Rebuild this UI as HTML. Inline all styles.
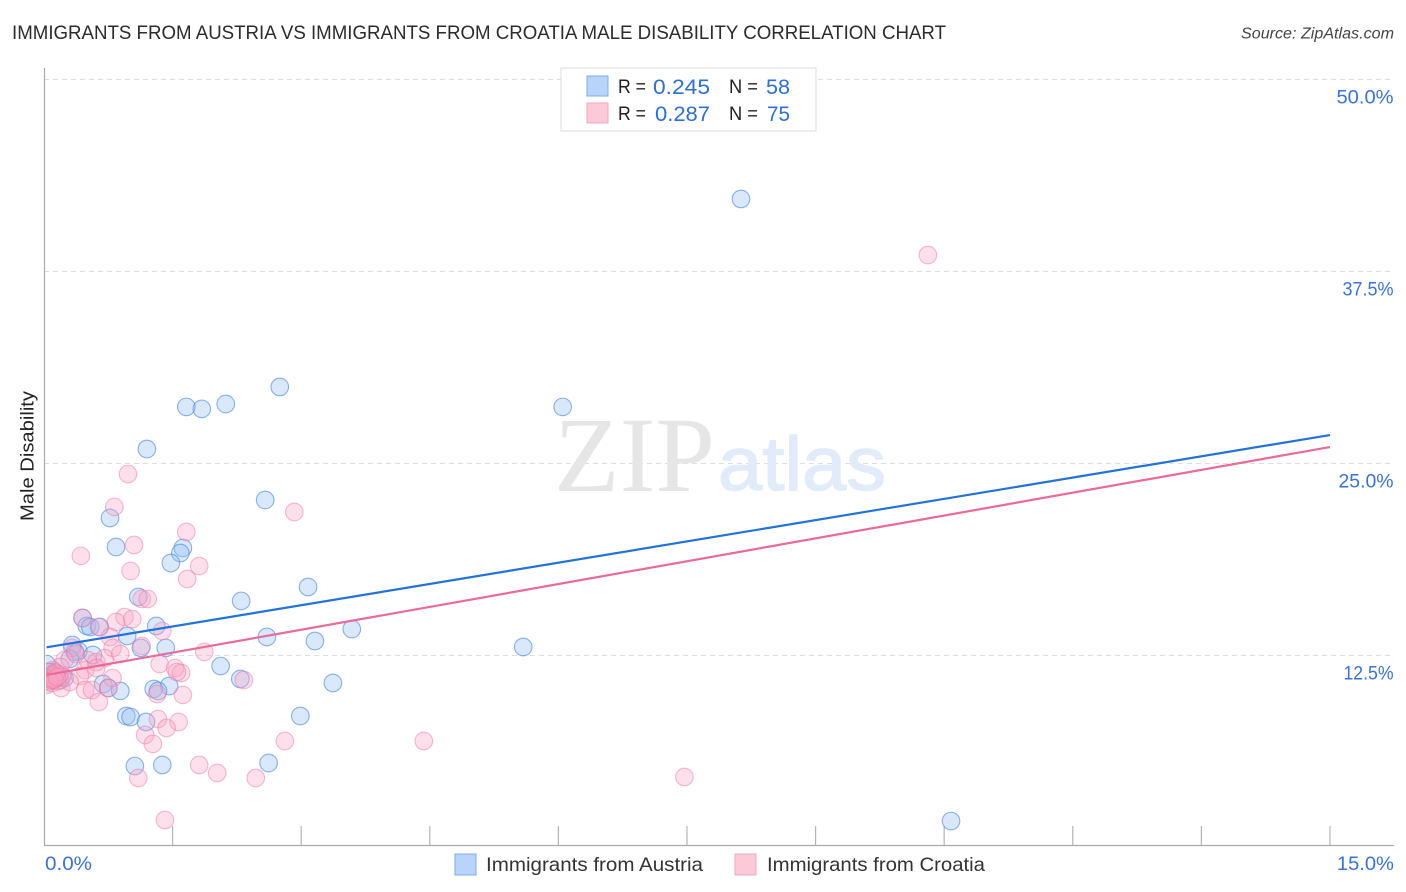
<!DOCTYPE html>
<html>
<head>
<meta charset="utf-8">
<title>Immigrants from Austria vs Immigrants from Croatia Male Disability Correlation Chart</title>
<style>
html,body{margin:0;padding:0;background:#fff;width:1406px;height:892px;overflow:hidden}
svg{display:block}
text{font-family:"Liberation Sans",sans-serif}
</style>
</head>
<body>
<svg id="chart" width="1406" height="892" viewBox="0 0 1406 892" xmlns="http://www.w3.org/2000/svg">
  <defs>
    <clipPath id="plot-clip"><rect x="46" y="60" width="1350" height="786"/></clipPath>
  </defs>
  <text x="12" y="39" font-size="19" fill="#2b2b2b" textLength="934" lengthAdjust="spacingAndGlyphs">IMMIGRANTS FROM AUSTRIA VS IMMIGRANTS FROM CROATIA MALE DISABILITY CORRELATION CHART</text>
  <text x="1241" y="38.5" font-size="15.5" font-style="italic" fill="#444" textLength="153" lengthAdjust="spacingAndGlyphs">Source: ZipAtlas.com</text>
  <g id="grid"></g>
  <g>
    <text x="554" y="491" style="font-family:'Liberation Serif',serif" font-size="107" fill="#e6e6e6" textLength="161" lengthAdjust="spacingAndGlyphs">ZIP</text>
    <text x="718" y="490" font-size="76" fill="#e2ebf9" stroke="#e2ebf9" stroke-width="1.4" textLength="168" lengthAdjust="spacingAndGlyphs">atlas</text>
  </g>
  <g id="axes"></g>
  <g id="points" clip-path="url(#plot-clip)"></g>
  <g id="lines"></g>
  <g id="labels"></g>
  <text transform="translate(33.5,456) rotate(-90)" text-anchor="middle" font-size="18.5" fill="#222" textLength="130" lengthAdjust="spacingAndGlyphs">Male Disability</text>

  <g>
    <rect x="561" y="68" width="255" height="63" fill="#fff" stroke="#dcdcdc" stroke-width="1"/>
    <rect x="587" y="76" width="21" height="20" fill="#b9d4fa" stroke="#7fabe6" stroke-width="1"/>
    <rect x="587" y="103" width="21" height="20" fill="#fcc9d9" stroke="#f1a7c0" stroke-width="1"/>
    <text x="618" y="93" font-size="19.5" fill="#222" textLength="28" lengthAdjust="spacingAndGlyphs">R =</text>
    <text x="653" y="94" font-size="21" fill="#2f6fd0" textLength="57" lengthAdjust="spacingAndGlyphs">0.245</text>
    <text x="729" y="93" font-size="19.5" fill="#222" textLength="29" lengthAdjust="spacingAndGlyphs">N =</text>
    <text x="766" y="94" font-size="21" fill="#2f6fd0" textLength="24" lengthAdjust="spacingAndGlyphs">58</text>
    <text x="618" y="120" font-size="19.5" fill="#222" textLength="28" lengthAdjust="spacingAndGlyphs">R =</text>
    <text x="655" y="121" font-size="21" fill="#2f6fd0" textLength="55" lengthAdjust="spacingAndGlyphs">0.287</text>
    <text x="729" y="120" font-size="19.5" fill="#222" textLength="29" lengthAdjust="spacingAndGlyphs">N =</text>
    <text x="767" y="121" font-size="21" fill="#2f6fd0" textLength="23" lengthAdjust="spacingAndGlyphs">75</text>
  </g>

  <g>
    <rect x="455" y="854" width="21" height="21" fill="#b9d4fa" stroke="#7fabe6" stroke-width="1"/>
    <text x="486" y="871" font-size="19.5" fill="#333" textLength="217" lengthAdjust="spacingAndGlyphs">Immigrants from Austria</text>
    <rect x="735" y="854" width="21" height="21" fill="#fcc9d9" stroke="#f1a7c0" stroke-width="1"/>
    <text x="767" y="871" font-size="19.5" fill="#333" textLength="218" lengthAdjust="spacingAndGlyphs">Immigrants from Croatia</text>
  </g>
</svg>
<script>
// Values are percentages.
const austriaX = [8.13,6.05,2.75,2.12,1.84,1.66,1.20,2.58,0.77,0.84,1.62,1.59,1.48,3.08,2.30,1.10,0.45,0.50,0.54,0.65,1.31,3.59,2.60,3.16,0.97,5.59,1.42,1.13,0.33,0.40,0.36,0.57,2.06,2.29,3.37,1.46,0.69,0.75,0.89,1.28,1.33,2.99,0.96,1.01,1.19,1.06,1.38,2.62,10.58,0.03,0.07,0.09,0.14,0.19,0.24,0.30,0.13,0.05];
const austriaY = [42.19,28.65,29.95,28.84,28.52,28.65,25.91,22.59,21.42,19.53,19.47,19.14,18.49,16.93,16.02,16.28,14.91,14.39,14.32,14.32,14.39,14.19,13.67,13.41,13.74,13.02,12.96,12.96,13.15,12.76,12.70,12.50,11.78,10.94,10.68,10.48,10.61,10.35,10.16,10.29,10.16,8.53,8.53,8.46,8.14,5.27,5.34,5.47,1.69,11.91,11.39,10.87,11.13,10.87,11.00,12.24,11.39,11.00];
const croatiaX = [10.31,0.98,0.82,2.92,1.66,1.05,0.43,1.01,1.81,1.67,1.14,1.21,0.45,0.94,1.03,0.84,0.64,1.38,0.77,0.80,1.14,0.33,1.87,1.35,1.53,1.60,1.55,2.33,0.24,0.51,0.61,0.71,0.89,0.37,0.19,0.48,0.61,0.80,0.42,0.10,0.05,0.03,0.09,0.20,0.30,0.48,0.56,0.64,0.75,1.32,1.62,1.33,1.57,1.43,1.18,1.27,2.81,4.43,1.81,2.02,2.47,1.10,7.47,1.41,0.07,0.13,0.16,0.09,0.10,0.21,0.18,0.14,0.06,0.12,0.15];
const croatiaY = [38.54,24.28,22.14,21.81,20.51,19.66,18.95,17.97,18.29,17.45,16.15,16.15,14.91,14.97,14.84,14.65,14.32,14.06,13.67,12.96,13.09,12.96,12.70,11.91,11.65,11.33,11.39,10.87,12.17,12.17,12.04,12.30,12.57,12.57,11.72,11.52,11.65,11.00,11.13,11.52,11.39,10.55,10.68,10.35,10.74,10.22,10.22,9.44,10.35,9.96,9.90,8.33,8.14,7.75,7.29,6.71,6.90,6.90,5.34,4.82,4.49,4.49,4.56,1.76,11.00,11.13,10.80,11.20,10.87,11.10,11.20,11.30,10.80,10.90,11.05];
const austriaTrendX = [0.03,15];
const austriaTrendY = [13.0,26.82];
const croatiaTrendX = [0.03,15];
const croatiaTrendY = [11.2,26.04];
const yTicks = [12.5,25,37.5,50];
const yTickLabels = ["12.5%","25.0%","37.5%","50.0%"];
const xTicks = [1.5,3,4.5,6,7.5,9,10.5,12,13.5,15];
const xEndValues = [0,15];
const xEndLabels = ["0.0%","15.0%"];

const NS = "http://www.w3.org/2000/svg";
const xScale = v => 44 + v * 85.73;
const yScale = v => 847 - v * 15.36;
function make(tag, parent) {
  const el = document.createElementNS(NS, tag);
  parent.appendChild(el);
  return el;
}
const labelWidth = text => text.startsWith("1") ? 50 : text.startsWith("3") ? 51 : text.startsWith("2") ? 55 : 57;
const gridG = document.getElementById("grid");
const axesG = document.getElementById("axes");
const pointsG = document.getElementById("points");
const linesG = document.getElementById("lines");
const labelsG = document.getElementById("labels");

yTicks.forEach((t, i) => {
  const l = make("line", gridG);
  
  
  l.setAttribute("x1", 44); l.setAttribute("x2", 1394);
  l.setAttribute("y1", yScale(t) + 0.5); l.setAttribute("y2", yScale(t) + 0.5);
  l.setAttribute("stroke", "#dedede"); l.setAttribute("stroke-width", 1);
  l.setAttribute("stroke-dasharray", "5 4");
  const s = make("text", labelsG);
  
  
  s.setAttribute("x", 1393.5);
  s.setAttribute("y", yScale(t) + 24.5);
  s.setAttribute("text-anchor", "end");
  s.setAttribute("font-size", "19");
  s.setAttribute("fill", "#3a72d4");
  s.setAttribute("textLength", labelWidth(yTickLabels[i]));
  s.setAttribute("lengthAdjust", "spacingAndGlyphs");
  s.textContent = yTickLabels[i];
});

const yAxis = make("line", axesG);


yAxis.setAttribute("x1", 44.5); yAxis.setAttribute("x2", 44.5);
yAxis.setAttribute("y1", 68); yAxis.setAttribute("y2", 846);
yAxis.setAttribute("stroke", "#aaa"); yAxis.setAttribute("stroke-width", 1.2);

const xAxis = make("line", axesG);


xAxis.setAttribute("x1", 44); xAxis.setAttribute("x2", 1394);
xAxis.setAttribute("y1", 845.5); xAxis.setAttribute("y2", 845.5);
xAxis.setAttribute("stroke", "#aaa"); xAxis.setAttribute("stroke-width", 1.2);

xTicks.forEach(t => {
  const l = make("line", axesG);
  
  
  l.setAttribute("x1", xScale(t)); l.setAttribute("x2", xScale(t));
  l.setAttribute("y1", 826); l.setAttribute("y2", 845);
  l.setAttribute("stroke", "#b5b5b5"); l.setAttribute("stroke-width", 1.2);
});

xEndValues.forEach((v, i) => {
  const s = make("text", labelsG);
  
  
  s.setAttribute("x", i === 0 ? xScale(v) + 1 : xScale(v) + 7);
  s.setAttribute("y", 870);
  s.setAttribute("font-size", "19");
  s.setAttribute("fill", "#3a72d4");
  s.setAttribute("textLength", i === 0 ? "47" : "57");
  s.setAttribute("lengthAdjust", "spacingAndGlyphs");
  s.textContent = xEndLabels[i];
});

austriaX.forEach((v, i) => {
  const c = make("circle", pointsG);
  
  
  c.setAttribute("cx", xScale(v));
  c.setAttribute("cy", yScale(austriaY[i]));
  c.setAttribute("r", 8.8);
  c.setAttribute("fill", "rgba(150,190,245,0.36)");
  c.setAttribute("stroke", "rgba(70,130,220,0.6)");
  c.setAttribute("stroke-width", 1.1);
});
croatiaX.forEach((v, i) => {
  const c = make("circle", pointsG);
  
  
  c.setAttribute("cx", xScale(v));
  c.setAttribute("cy", yScale(croatiaY[i]));
  c.setAttribute("r", 8.8);
  c.setAttribute("fill", "rgba(250,165,195,0.34)");
  c.setAttribute("stroke", "rgba(235,120,165,0.5)");
  c.setAttribute("stroke-width", 1.1);
});

const blueLine = make("line", linesG);


blueLine.setAttribute("x1", xScale(austriaTrendX[0]));
blueLine.setAttribute("y1", yScale(austriaTrendY[0]));
blueLine.setAttribute("x2", xScale(austriaTrendX[1]));
blueLine.setAttribute("y2", yScale(austriaTrendY[1]));
blueLine.setAttribute("stroke", "#2272d9");
blueLine.setAttribute("stroke-width", 2.2);

const pinkLine = make("line", linesG);


pinkLine.setAttribute("x1", xScale(croatiaTrendX[0]));
pinkLine.setAttribute("y1", yScale(croatiaTrendY[0]));
pinkLine.setAttribute("x2", xScale(croatiaTrendX[1]));
pinkLine.setAttribute("y2", yScale(croatiaTrendY[1]));
pinkLine.setAttribute("stroke", "#ea6a9c");
pinkLine.setAttribute("stroke-width", 2.2);
</script>
</body>
</html>
